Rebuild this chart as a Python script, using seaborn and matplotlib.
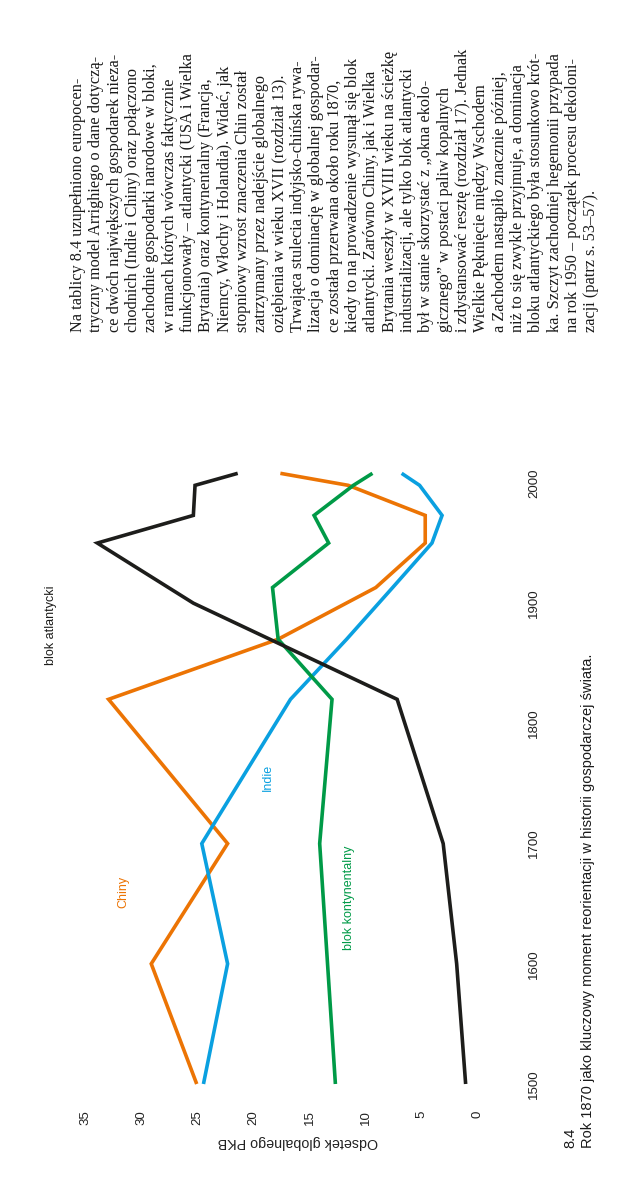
import matplotlib
matplotlib.use("Agg")
import matplotlib.pyplot as plt
import numpy as np
import pandas as pd
import seaborn as sns

# ---------------- data ----------------
YEARS = [1500, 1600, 1700, 1820, 1870, 1913, 1950, 1973, 1998, 2008]
CHINY = [25.05, 29.1, 22.3, 32.9, 17.8, 9.1, 4.7, 4.7, 11.55, 17.6]
INDIE = [24.45, 22.3, 24.6, 16.7, 11.7, 7.6, 4.1, 3.2, 5.2, 6.8]
KONTYNENTALNY = [12.7, 13.4, 14.1, 13.0, 17.8, 18.3, 13.3, 14.6, 11.1, 9.4]
YEARS_ATL = [1500, 1600, 1700, 1820, 1900, 1950, 1973, 1998, 2008]
ATLANTYCKI = [1.1, 1.9, 3.1, 7.2, 25.35, 33.9, 25.35, 25.2, 21.4]

SHARE_TICKS = [0, 5, 10, 15, 20, 25, 30, 35]
YEAR_TICKS = [1500, 1600, 1700, 1800, 1900, 2000]

SERIES_NAMES = ["Chiny", "Indie", "blok kontynentalny", "blok atlantycki"]
COLORS = {"Chiny": "#EC7404", "Indie": "#0AA0E0",
          "blok kontynentalny": "#009A47", "blok atlantycki": "#1D1D1B"}

Y_LABEL = "Odsetek globalnego PKB"
FIG_NUM = "8.4"
CAPTION = "Rok 1870 jako kluczowy moment reorientacji w historii gospodarczej świata."

TEXT_LINES = [
    "Na tablicy 8.4 uzupełniono europocen-",
    "tryczny model Arrighiego o dane dotyczą-",
    "ce dwóch największych gospodarek nieza-",
    "chodnich (Indie i Chiny) oraz połączono",
    "zachodnie gospodarki narodowe w bloki,",
    "w ramach których wówczas faktycznie",
    "funkcjonowały – atlantycki (USA i Wielka",
    "Brytania) oraz kontynentalny (Francja,",
    "Niemcy, Włochy i Holandia). Widać, jak",
    "stopniowy wzrost znaczenia Chin został",
    "zatrzymany przez nadejście globalnego",
    "oziębienia w wieku XVII (rozdział 13).",
    "Trwająca stulecia indyjsko-chińska rywa-",
    "lizacja o dominację w globalnej gospodar-",
    "ce została przerwana około roku 1870,",
    "kiedy to na prowadzenie wysunął się blok",
    "atlantycki. Zarówno Chiny, jak i Wielka",
    "Brytania weszły w XVIII wieku na ścieżkę",
    "industrializacji, ale tylko blok atlantycki",
    "był w stanie skorzystać z „okna ekolo-",
    "gicznego” w postaci paliw kopalnych",
    "i zdystansować resztę (rozdział 17). Jednak",
    "Wielkie Pęknięcie między Wschodem",
    "a Zachodem nastąpiło znacznie później,",
    "niż to się zwykle przyjmuje, a dominacja",
    "bloku atlantyckiego była stosunkowo krót-",
    "ka. Szczyt zachodniej hegemonii przypada",
    "na rok 1950 – początek procesu dekoloni-",
    "zacji (patrz s. 53–57).",
]

# ---------------- frame ----------------
frames = []
for name, yrs, vals in [("Chiny", YEARS, CHINY), ("Indie", YEARS, INDIE),
                        ("blok kontynentalny", YEARS, KONTYNENTALNY),
                        ("blok atlantycki", YEARS_ATL, ATLANTYCKI)]:
    frames.append(pd.DataFrame({"year": yrs, "share": vals, "series": name}))
df = pd.concat(frames, ignore_index=True)

sns.set_style("white")
plt.rcParams["font.family"] = ["Liberation Sans", "DejaVu Sans"]

W, H = 643, 1200
fig = plt.figure(figsize=(W / 100, H / 100), dpi=100)
ax = fig.add_axes([85 / W, (H - 1084) / H, 393 / W, 0.5109])

sns.lineplot(data=df, x="share", y="year", hue="series", hue_order=SERIES_NAMES,
             palette=COLORS, orient="y", sort=True, estimator=None,
             legend=False, linewidth=2.6, clip_on=False, ax=ax,
             solid_capstyle="butt", solid_joinstyle="miter")

ax.set_xlim(35, 0)
ax.set_ylim(1500, 2010)
sns.despine(ax=ax, left=True, bottom=True, right=True, top=True)

tick_col = "#222222"
ax.set_xticks(SHARE_TICKS)
ax.set_xticklabels([str(t) for t in SHARE_TICKS], rotation=90, fontsize=9.5, color=tick_col)
ax.tick_params(axis="x", length=0, pad=19)
ax.yaxis.tick_right()
ax.set_yticks(YEAR_TICKS)
ax.set_yticklabels([str(t) for t in YEAR_TICKS], rotation=90, fontsize=9.5,
                   color=tick_col, va="center")
ax.tick_params(axis="y", length=0, pad=36)
ax.set_xlabel("")
ax.set_ylabel("")
ax.grid(False)

# axis title (upside down, as in rotated page)
fig.text(298 / W, 1 - 1142 / H, Y_LABEL, rotation=180, ha="center", va="center",
         fontsize=10.3, color=tick_col)

# series labels (data coordinates)
label_pos = {"blok atlantycki": (38.0, 1882), "Indie": (18.7, 1755),
             "Chiny": (31.6, 1660), "blok kontynentalny": (11.5, 1655)}
for name, (sx, yy) in label_pos.items():
    ax.text(sx, yy, name, rotation=90, ha="center", va="center", fontsize=9,
            color=COLORS[name], clip_on=False)

# caption
fig.text((570 + 4) / W, 1 - 1148 / H, FIG_NUM, rotation=90, rotation_mode="anchor",
         ha="left", va="baseline", fontsize=10.5, color="#1a1a1a")
fig.text((588 + 4) / W, 1 - 1148 / H, CAPTION, rotation=90, rotation_mode="anchor",
         ha="left", va="baseline", fontsize=10.5, color="#1a1a1a")

# body text block
for i, line in enumerate(TEXT_LINES):
    fig.text((78 + 4 + i * 18.33) / W, 1 - 332 / H, line, rotation=90,
             rotation_mode="anchor", ha="left", va="baseline",
             fontsize=11.7, family=["Liberation Serif", "DejaVu Serif"], color="#1a1a1a")

fig.savefig("out.png", dpi=100)
